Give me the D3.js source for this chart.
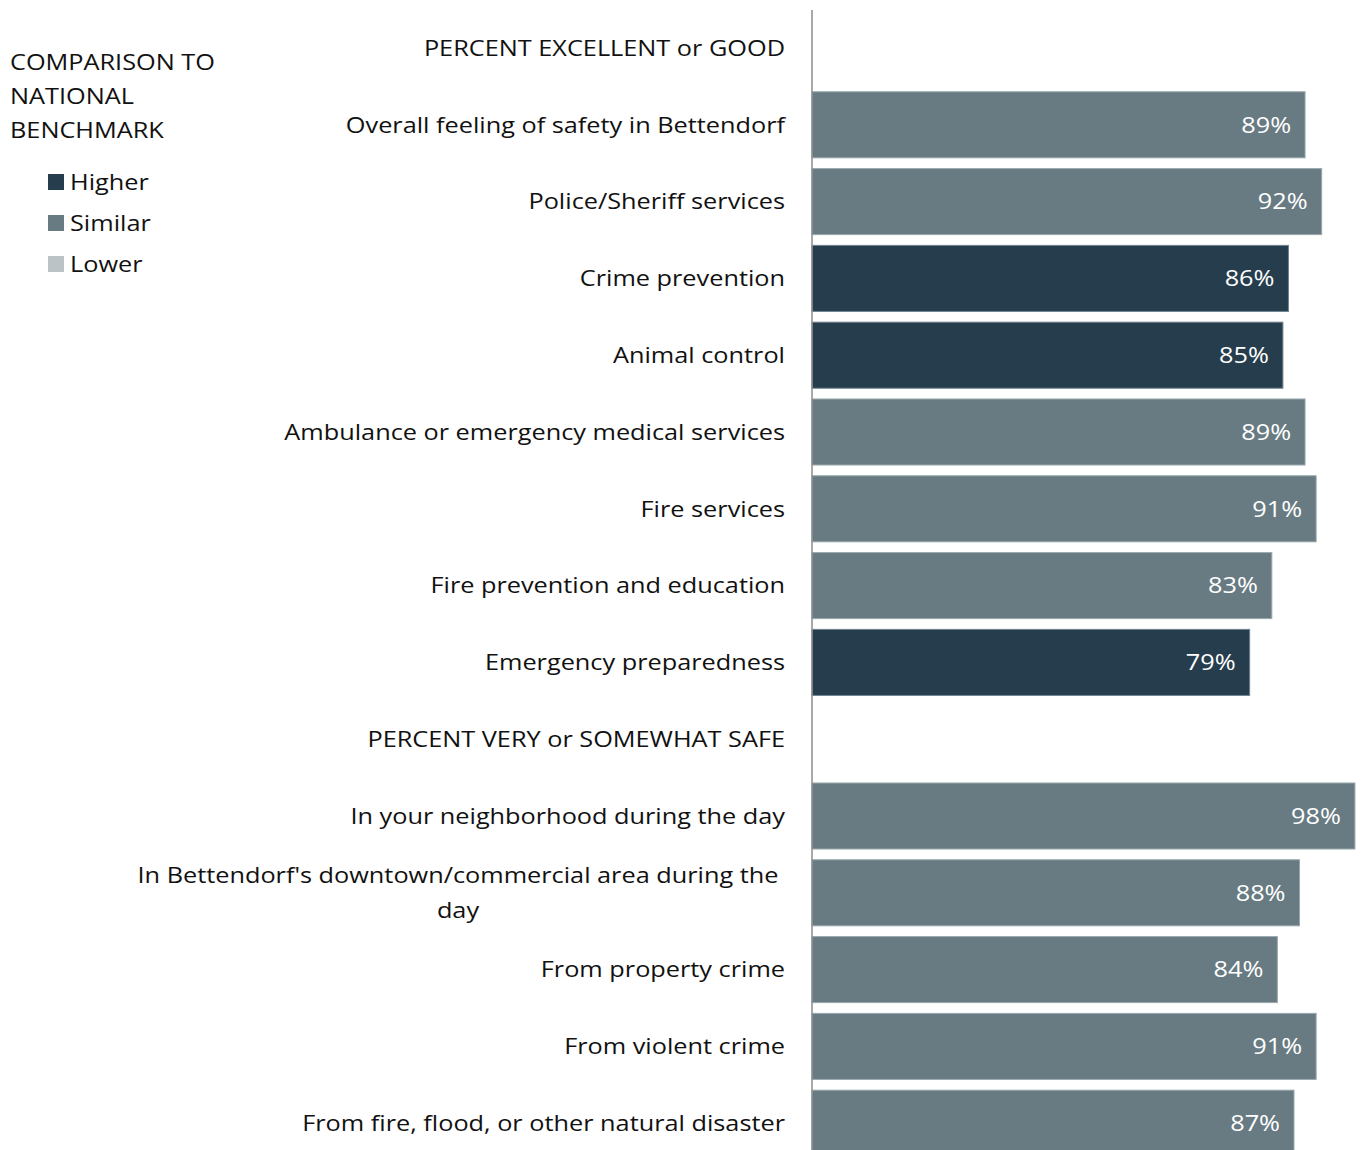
<!DOCTYPE html>
<html>
<head>
<meta charset="utf-8">
<script src="https://cdn.jsdelivr.net/npm/d3@7"></script>
<style>
  body { margin: 0; background: #fff; }
  svg { display: block; font-family: "Open Sans", sans-serif; }
</style>
</head>
<body>
<div id="chart"></div>
<script>
// rows top to bottom, headers have no value
const labels = [
  "PERCENT EXCELLENT or GOOD",
  "Overall feeling of safety in Bettendorf",
  "Police/Sheriff services",
  "Crime prevention",
  "Animal control",
  "Ambulance or emergency medical services",
  "Fire services",
  "Fire prevention and education",
  "Emergency preparedness",
  "PERCENT VERY or SOMEWHAT SAFE",
  "In your neighborhood during the day",
  "In Bettendorf's downtown/commercial area during the day",
  "From property crime",
  "From violent crime",
  "From fire, flood, or other natural disaster"
]
const values = [null, 89, 92, 86, 85, 89, 91, 83, 79, null, 98, 88, 84, 91, 87]
const comparison = [null, "Similar", "Similar", "Higher", "Higher", "Similar", "Similar", "Similar", "Higher",
  null, "Similar", "Similar", "Similar", "Similar", "Similar"]
const legendItems = ["Higher", "Similar", "Lower"]
const legendTitle = ["COMPARISON TO", "NATIONAL", "BENCHMARK"]

const width = 1361
const height = 1150
const axisX = 812
const labelRight = 785
const fs = "22px"
const sx = 1.15   // the source text is a bit wide, stretch horizontally

const colors = { Higher: "#263d4d", Similar: "#687b82", Lower: "#bcc3c6" }
const strokes = { Higher: "#6f8290", Similar: "#9aa8ad", Lower: "#d5dadc" }

const svg = d3.select("#chart")
  .append("svg")
  .attr("width", width)
  .attr("height", height)

const place = (x, y) => "translate(" + x + "," + y + ") scale(" + sx + ",1)"

const rows = labels.map((l, i) => ({ label: l, value: values[i], comp: comparison[i], idx: i }))

// ********** scales **********
const yScale = d3.scaleBand()
  .domain(d3.range(labels.length))
  .range([9.6, 1161.6])
  .paddingInner(0.14)
  .paddingOuter(0.07)

const xScale = d3.scaleLinear()
  .domain([0, 100])
  .range([axisX, axisX + 554])

// ********** bars **********
const bars = rows.filter(d => d.value != null)

svg.selectAll("rect.bar")
  .data(bars)
  .enter()
  .append("rect")
  .attr("class", "bar")
  .attr("x", xScale(0))
  .attr("y", d => yScale(d.idx))
  .attr("width", d => xScale(d.value) - xScale(0))
  .attr("height", yScale.bandwidth())
  .attr("fill", d => colors[d.comp])
  .attr("stroke", d => strokes[d.comp])
  .attr("stroke-width", 1)

svg.selectAll("text.val")
  .data(bars)
  .enter()
  .append("text")
  .attr("class", "val")
  .attr("transform", d => place(xScale(d.value) - 14, yScale(d.idx) + yScale.bandwidth() / 2))
  .attr("dy", "0.35em")
  .attr("text-anchor", "end")
  .attr("fill", "#fff")
  .style("font-size", fs)
  .text(d => d.value + "%")

// ********** axis line **********
svg.append("line")
  .attr("x1", axisX)
  .attr("x2", axisX)
  .attr("y1", 10)
  .attr("y2", height)
  .attr("stroke", "#8c8c8c")
  .attr("stroke-width", 1.5)

// ********** category labels **********
const maxLabelWidth = 660
rows.forEach(d => {
  const cy = yScale(d.idx) + yScale.bandwidth() / 2
  const t = svg.append("text")
    .attr("fill", "#111")
    .style("font-size", fs)
  t.text(d.label)
  if (t.node().getComputedTextLength() * sx <= maxLabelWidth) {
    t.attr("transform", place(labelRight, cy)).attr("dy", "0.35em").attr("text-anchor", "end")
    return
  }
  // wrap into lines, centered in the label box
  const words = d.label.split(" ")
  const lines = []
  let line = []
  words.forEach(w => {
    t.text(line.concat(w).join(" "))
    if (t.node().getComputedTextLength() * sx > maxLabelWidth && line.length) {
      lines.push(line.join(" "))
      line = [w]
    } else {
      line.push(w)
    }
  })
  lines.push(line.join(" "))
  t.text(null)
  const lh = 36
  t.attr("transform", place(labelRight - 327, cy))
  lines.forEach((ln, k) => {
    t.append("tspan")
      .attr("x", 0)
      .attr("y", (k - (lines.length - 1) / 2) * lh)
      .attr("dy", "0.35em")
      .attr("text-anchor", "middle")
      .text(ln)
  })
})

// ********** legend **********
const legend = svg.append("g")

legend.selectAll("text.ltitle")
  .data(legendTitle)
  .enter()
  .append("text")
  .attr("transform", (d, i) => place(10, 70 + i * 34))
  .attr("fill", "#111")
  .style("font-size", fs)
  .text(d => d)

legend.selectAll("rect.sw")
  .data(legendItems)
  .enter()
  .append("rect")
  .attr("x", 48)
  .attr("y", (d, i) => 174 + i * 41)
  .attr("width", 16)
  .attr("height", 16)
  .attr("fill", d => colors[d])

legend.selectAll("text.li")
  .data(legendItems)
  .enter()
  .append("text")
  .attr("transform", (d, i) => place(70, 182 + i * 41))
  .attr("dy", "0.35em")
  .attr("fill", "#111")
  .style("font-size", fs)
  .text(d => d)
</script>
</body>
</html>
